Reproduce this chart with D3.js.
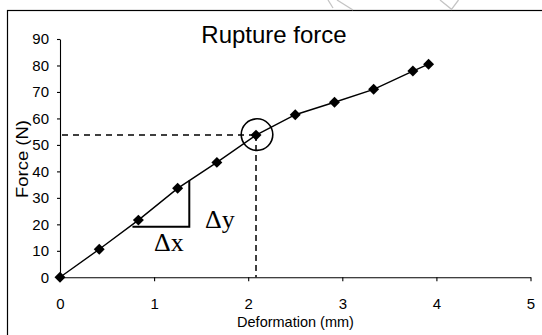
<!DOCTYPE html>
<html>
<head>
<meta charset="utf-8">
<script src="https://cdn.jsdelivr.net/npm/d3@7"></script>
<style>
  html, body { margin: 0; padding: 0; background: #fff; }
  svg { display: block; }
</style>
</head>
<body>
<svg id="chart" width="542" height="335"></svg>
<script>
// Measured deformation (mm) and rupture force (N)
const deformation = [0, 0.417, 0.833, 1.25, 1.667, 2.083, 2.5, 2.917, 3.333, 3.75, 3.917];
const force = [0, 10.6, 21.6, 33.6, 43.4, 53.7, 61.4, 66.1, 71.0, 77.9, 80.5];
const xTicks = [0, 1, 2, 3, 4, 5];
const yTicks = [0, 10, 20, 30, 40, 50, 60, 70, 80, 90];
// Highlighted rupture point (index into the series)
const ruptureIndex = 5;
// Slope triangle corners along the deformation axis and its base force
const slopeX = [0.77, 1.374];
const slopeBase = 19.1;

const svg = d3.select("#chart");
const x = d3.scaleLinear().domain([0, 5]).range([60, 530.5]);
const y = d3.scaleLinear().domain([0, 90]).range([277.3, 39]);

// outer frame
svg.append("rect")
  .attr("x", 7.5).attr("y", 10.5).attr("width", 700).attr("height", 500)
  .attr("fill", "none").attr("stroke", "#000").attr("stroke-width", 1.2);

// faint marks along the top edge
const faint = svg.append("g").attr("stroke", "#c4c4c4").attr("stroke-width", 1.3).attr("fill", "none");
faint.append("path").attr("d", "M328,0 L333,8");
faint.append("path").attr("d", "M337,0 L353,10");
faint.append("path").attr("d", "M440,0 L451.5,9.3 L458.5,0");

// axes
const font = "'Liberation Sans', Arial, sans-serif";
const xAxis = svg.append("g")
  .attr("transform", `translate(0,${y(0)})`)
  .call(d3.axisBottom(x).tickValues(xTicks).tickFormat(d3.format("d")).tickSize(4).tickPadding(17).tickSizeOuter(0));
const yAxis = svg.append("g")
  .attr("transform", `translate(${x(0)},0)`)
  .call(d3.axisLeft(y).tickValues(yTicks).tickSize(3).tickPadding(8).tickSizeOuter(0));
[xAxis, yAxis].forEach(g => {
  g.select(".domain").attr("stroke", "#000").attr("stroke-width", 1.1);
  g.selectAll(".tick line").attr("stroke", "#000").attr("stroke-width", 1.1);
  g.selectAll("text").attr("font-family", font).attr("font-size", 15).attr("fill", "#000");
});

// axis titles
svg.append("text")
  .attr("x", 295.5).attr("y", 326.5)
  .attr("text-anchor", "middle")
  .attr("font-family", font).attr("font-size", 14.5)
  .text("Deformation (mm)");
svg.append("text")
  .attr("transform", "translate(28,159) rotate(-90)")
  .attr("text-anchor", "middle")
  .attr("font-family", font).attr("font-size", 16)
  .attr("textLength", 78).attr("lengthAdjust", "spacingAndGlyphs")
  .text("Force (N)");

// chart title
svg.append("text")
  .attr("x", 274).attr("y", 43.3)
  .attr("text-anchor", "middle")
  .attr("font-family", font).attr("font-size", 24)
  .text("Rupture force");

// dashed guides to the rupture point
const rx = deformation[ruptureIndex], ry = force[ruptureIndex];
svg.append("line")
  .attr("x1", x(0) + 2).attr("x2", x(rx)).attr("y1", y(ry)).attr("y2", y(ry))
  .attr("stroke", "#000").attr("stroke-width", 1.5).attr("stroke-dasharray", "6,5");
svg.append("line")
  .attr("x1", x(rx)).attr("x2", x(rx)).attr("y1", y(ry)).attr("y2", y(0))
  .attr("stroke", "#000").attr("stroke-width", 1.5).attr("stroke-dasharray", "6,4");

// slope triangle
const interp = (xv) => {
  const i = d3.bisectRight(deformation, xv) - 1;
  const t = (xv - deformation[i]) / (deformation[i + 1] - deformation[i]);
  return force[i] + t * (force[i + 1] - force[i]);
};
svg.append("path")
  .attr("d", `M${x(slopeX[0])},${y(slopeBase)} L${x(slopeX[1])},${y(slopeBase)} L${x(slopeX[1])},${y(interp(slopeX[1]))}`)
  .attr("fill", "none").attr("stroke", "#000").attr("stroke-width", 2);

const serif = "'Liberation Serif', 'Times New Roman', serif";
svg.append("text").attr("x", 154).attr("y", 250.5)
  .attr("font-family", serif).attr("font-size", 26).text("Δx");
svg.append("text").attr("x", 205).attr("y", 228.3)
  .attr("font-family", serif).attr("font-size", 26).text("Δy");

// data line and markers
const pts = deformation.map((d, i) => [d, force[i]]);
svg.append("path")
  .datum(pts)
  .attr("d", d3.line().x(d => x(d[0])).y(d => y(d[1])))
  .attr("fill", "none").attr("stroke", "#000").attr("stroke-width", 1.4);
svg.append("g").selectAll("path")
  .data(pts)
  .join("path")
  .attr("d", d3.symbol(d3.symbolSquare, 60))
  .attr("transform", d => `translate(${x(d[0])},${y(d[1])}) rotate(45)`)
  .attr("fill", "#000");

// circle around the rupture point
svg.append("circle")
  .attr("cx", x(rx) + 1).attr("cy", y(ry) - 0.5).attr("r", 15.8)
  .attr("fill", "none").attr("stroke", "#000").attr("stroke-width", 1.6);
</script>
</body>
</html>
